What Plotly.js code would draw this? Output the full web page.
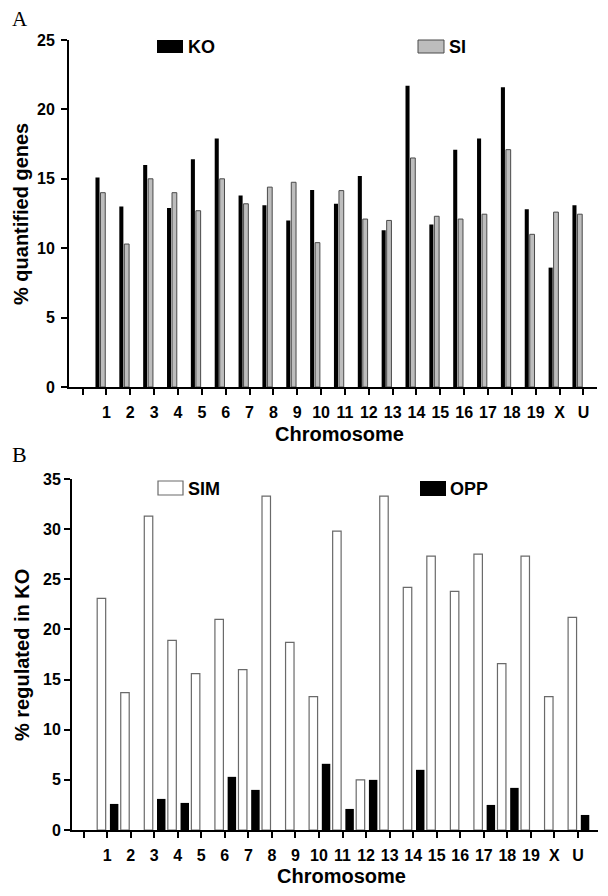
<!DOCTYPE html>
<html>
<head>
<meta charset="utf-8">
<script src="https://cdn.plot.ly/plotly-3.0.1.min.js"></script>
<style>
  html, body { margin: 0; padding: 0; background: #fff; }
  #chart { width: 608px; height: 896px; }
</style>
</head>
<body>
<div id="chart"></div>
<script>
// ---- Data ----
const chromosomes = ['1','2','3','4','5','6','7','8','9','10','11','12','13','14','15','16','17','18','19','X','U'];
const axisCategories = [' '].concat(chromosomes);

// Panel A: % quantified genes
const koQuantified = [15.1, 13.0, 16.0, 12.9, 16.4, 17.9, 13.8, 13.1, 12.0, 14.2, 13.2, 15.2, 11.3, 21.7, 11.7, 17.1, 17.9, 21.6, 12.8, 8.6, 13.1];
const siQuantified = [14.0, 10.3, 15.0, 14.0, 12.7, 15.0, 13.2, 14.4, 14.75, 10.4, 14.15, 12.1, 12.0, 16.5, 12.3, 12.1, 12.45, 17.1, 11.0, 12.6, 12.45];

// Panel B: % regulated in KO
const simRegulated = [23.1, 13.7, 31.3, 18.9, 15.6, 21.0, 16.0, 33.3, 18.7, 13.3, 29.8, 5.0, 33.3, 24.2, 27.3, 23.8, 27.5, 16.6, 27.3, 13.3, 21.2];
const oppRegulated = [2.6, 0, 3.1, 2.7, 0, 5.3, 4.0, 0, 0, 6.6, 2.1, 5.0, 0, 6.0, 0, 0, 2.5, 4.2, 0, 0, 1.5];

// Labels
const panelALabels = { series: ['KO', 'SI'], yTitle: '% quantified genes', xTitle: 'Chromosome', tag: 'A' };
const panelBLabels = { series: ['SIM', 'OPP'], yTitle: '% regulated in KO', xTitle: 'Chromosome', tag: 'B' };

// ---- Layout helpers ----
const W = 608, H = 896;
const px = v => v / W;
const py = v => 1 - v / H;
const FONT = 'Liberation Sans, Arial, Helvetica, sans-serif';
const SERIF = 'Liberation Serif, Times New Roman, serif';

const traces = [
  { type: 'bar', name: panelALabels.series[0], x: chromosomes, y: koQuantified, xaxis: 'x', yaxis: 'y',
    offset: -0.46, width: 0.17, marker: { color: '#000000', line: { width: 0 } }, showlegend: false },
  { type: 'bar', name: panelALabels.series[1], x: chromosomes, y: siQuantified, xaxis: 'x', yaxis: 'y',
    offset: -0.25, width: 0.2, marker: { color: '#bdbdbd', line: { color: '#4a4a4a', width: 1 } }, showlegend: false },
  { type: 'bar', name: panelBLabels.series[0], x: chromosomes, y: simRegulated, xaxis: 'x2', yaxis: 'y2',
    offset: -0.42, width: 0.36, marker: { color: '#ffffff', line: { color: '#6a6a6a', width: 1.2 } }, showlegend: false },
  { type: 'bar', name: panelBLabels.series[1], x: chromosomes, y: oppRegulated, xaxis: 'x2', yaxis: 'y2',
    offset: 0.12, width: 0.36, marker: { color: '#000000', line: { width: 0 } }, showlegend: false }
];

const tickFont = { family: FONT, size: 16, color: '#000', weight: 'bold' };

function xAxis(domain, anchor, range) {
  return {
    domain: domain, anchor: anchor, type: 'category',
    categoryorder: 'array', categoryarray: axisCategories,
    range: range, showline: true, linecolor: '#000', linewidth: 2,
    ticks: 'outside', ticklen: 6, tickwidth: 2, tickcolor: '#000',
    showgrid: false, zeroline: false, tickfont: tickFont, ticklabelstandoff: 4,
    automargin: false, fixedrange: true
  };
}
function yAxis(domain, anchor, range, ticklen, standoff) {
  return {
    domain: domain, anchor: anchor, range: range, dtick: 5, tick0: 0,
    showline: true, linecolor: '#000', linewidth: 2,
    ticks: 'outside', ticklen: ticklen, tickwidth: 2, tickcolor: '#000',
    showgrid: false, zeroline: false, tickfont: tickFont, ticklabelstandoff: standoff,
    automargin: false, fixedrange: true
  };
}

const shapes = [
  // legend swatches, panel A
  { type: 'rect', xref: 'paper', yref: 'paper', x0: px(157), x1: px(183), y0: py(53), y1: py(40),
    fillcolor: '#000', line: { width: 0 } },
  { type: 'rect', xref: 'paper', yref: 'paper', x0: px(418), x1: px(444), y0: py(53), y1: py(40),
    fillcolor: '#bdbdbd', line: { color: '#4a4a4a', width: 1 } },
  // legend swatches, panel B
  { type: 'rect', xref: 'paper', yref: 'paper', x0: px(158), x1: px(183), y0: py(495), y1: py(481),
    fillcolor: '#fff', line: { color: '#6a6a6a', width: 1.2 } },
  { type: 'rect', xref: 'paper', yref: 'paper', x0: px(420), x1: px(446), y0: py(496), y1: py(481),
    fillcolor: '#000', line: { width: 0 } }
];

function ann(text, x, y, opts) {
  return Object.assign({ text: text, xref: 'paper', yref: 'paper', x: px(x), y: py(y),
    xanchor: 'center', yanchor: 'middle', showarrow: false,
    font: { family: FONT, size: 18, color: '#000', weight: 'bold' } }, opts || {});
}

const titleFont = { family: FONT, size: 20, color: '#000', weight: 'bold' };
const annotations = [
  ann(panelALabels.tag, 20, 19, { font: { family: SERIF, size: 21, color: '#000' } }),
  ann(panelBLabels.tag, 19, 454, { font: { family: SERIF, size: 22, color: '#000' } }),
  ann(panelALabels.series[0], 186, 47, { xanchor: 'left' }),
  ann(panelALabels.series[1], 447, 47, { xanchor: 'left' }),
  ann(panelBLabels.series[0], 186, 489, { xanchor: 'left' }),
  ann(panelBLabels.series[1], 448, 489, { xanchor: 'left' }),
  ann(panelALabels.yTitle, 21, 214, { textangle: -90, font: titleFont }),
  ann(panelBLabels.yTitle, 22, 655, { textangle: -90, font: titleFont }),
  ann(panelALabels.xTitle, 339, 434, { font: titleFont }),
  ann(panelBLabels.xTitle, 341, 876, { font: titleFont })
];

const layout = {
  width: W, height: H,
  margin: { l: 0, r: 0, t: 0, b: 0, pad: 0 },
  paper_bgcolor: '#fff', plot_bgcolor: '#fff',
  barmode: 'overlay', showlegend: false,
  font: { family: FONT, color: '#000' },
  xaxis: xAxis([px(69), px(597)], 'y', [-0.57, 21.57]),
  yaxis: yAxis([1 - 387 / H, 1 - 40 / H], 'x', [0, 25], 6, 3),
  xaxis2: xAxis([px(72), px(598)], 'y2', [-0.49, 21.85]),
  yaxis2: yAxis([1 - 830 / H, 1 - 479 / H], 'x2', [0, 35], 6, 0),
  shapes: shapes,
  annotations: annotations
};

Plotly.newPlot('chart', traces, layout, { staticPlot: true, displayModeBar: false });
</script>
</body>
</html>
